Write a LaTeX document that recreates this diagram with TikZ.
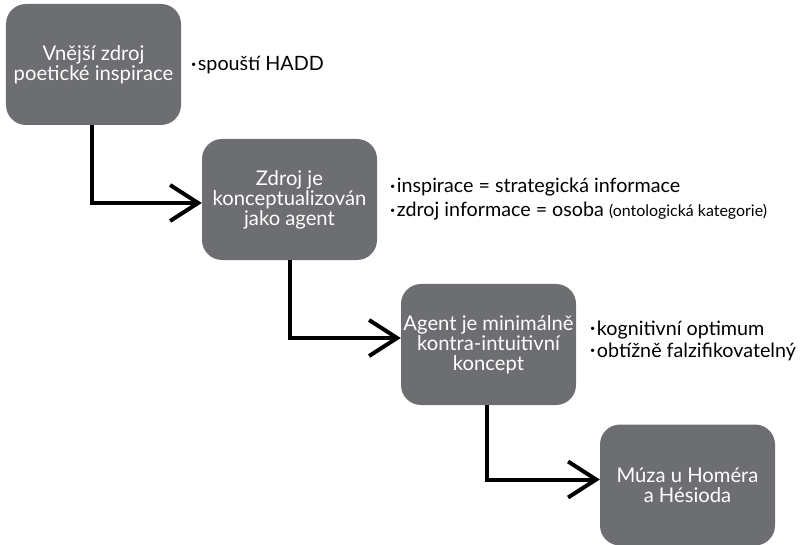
\documentclass[tikz,border=0pt]{standalone}
\usepackage{fontspec}
\setmainfont{Lato}
\usetikzlibrary{arrows.meta}
\definecolor{boxgray}{RGB}{109,110,113}
\tikzset{
  stepbox/.style={fill=boxgray, rounded corners=20bp, minimum width=175bp, minimum height=121bp,
    inner sep=0pt, align=center, text=white, font=\fontsize{20.3}{20}\selectfont},
  conn/.style={line width=4bp, -{Straight Barb[length=28bp,width=36bp]}},
  bullet/.style={anchor=base west, inner sep=0pt, font=\fontsize{19.8}{22}\selectfont}
}
\newcommand{\bul}{{\fontsize{9}{9}\selectfont\raisebox{0.4em}{•}}\hspace{1.5bp}}
\begin{document}
\begin{tikzpicture}[x=1bp,y=-1bp]
\useasboundingbox (0,0) rectangle (801,545);
\node[stepbox] (b1) at (93.5,64.5) {Vnější zdroj\\poetické inspirace};
\node[stepbox] (b2) at (289.5,199.5) {Zdroj je\\konceptualizován\\jako agent};
\node[stepbox] (b3) at (488.5,344.5) {Agent je minimálně\\kontra-intuitivní\\koncept};
\node[stepbox] (b4) at (687.5,485) {Múza u Homéra\\a Hésioda};

\node[bullet] (t1) at (191,71) {\bul spouští HADD};
\node[bullet] (t2) at (390,193) {\bul inspirace = strategická informace};
\node[bullet] (t3) at (390,217) {\bul zdroj informace = osoba {\fontsize{16}{18}\selectfont(ontologická kategorie)}};
\node[bullet] (t4) at (590,335) {\bul kognitivní optimum};
\node[bullet] (t5) at (590,357) {\bul obtížně falzifikovatelný};

\draw[conn] ([xshift=-1.5bp]b1.south) |- ([yshift=-3.5bp]b2.west);
\draw[conn] (b2.south) |- ([yshift=6.5bp]b3.west);
\draw[conn] ([xshift=-1.5bp]b3.south) |- ([yshift=5.5bp]b4.west);
\end{tikzpicture}
\end{document}
